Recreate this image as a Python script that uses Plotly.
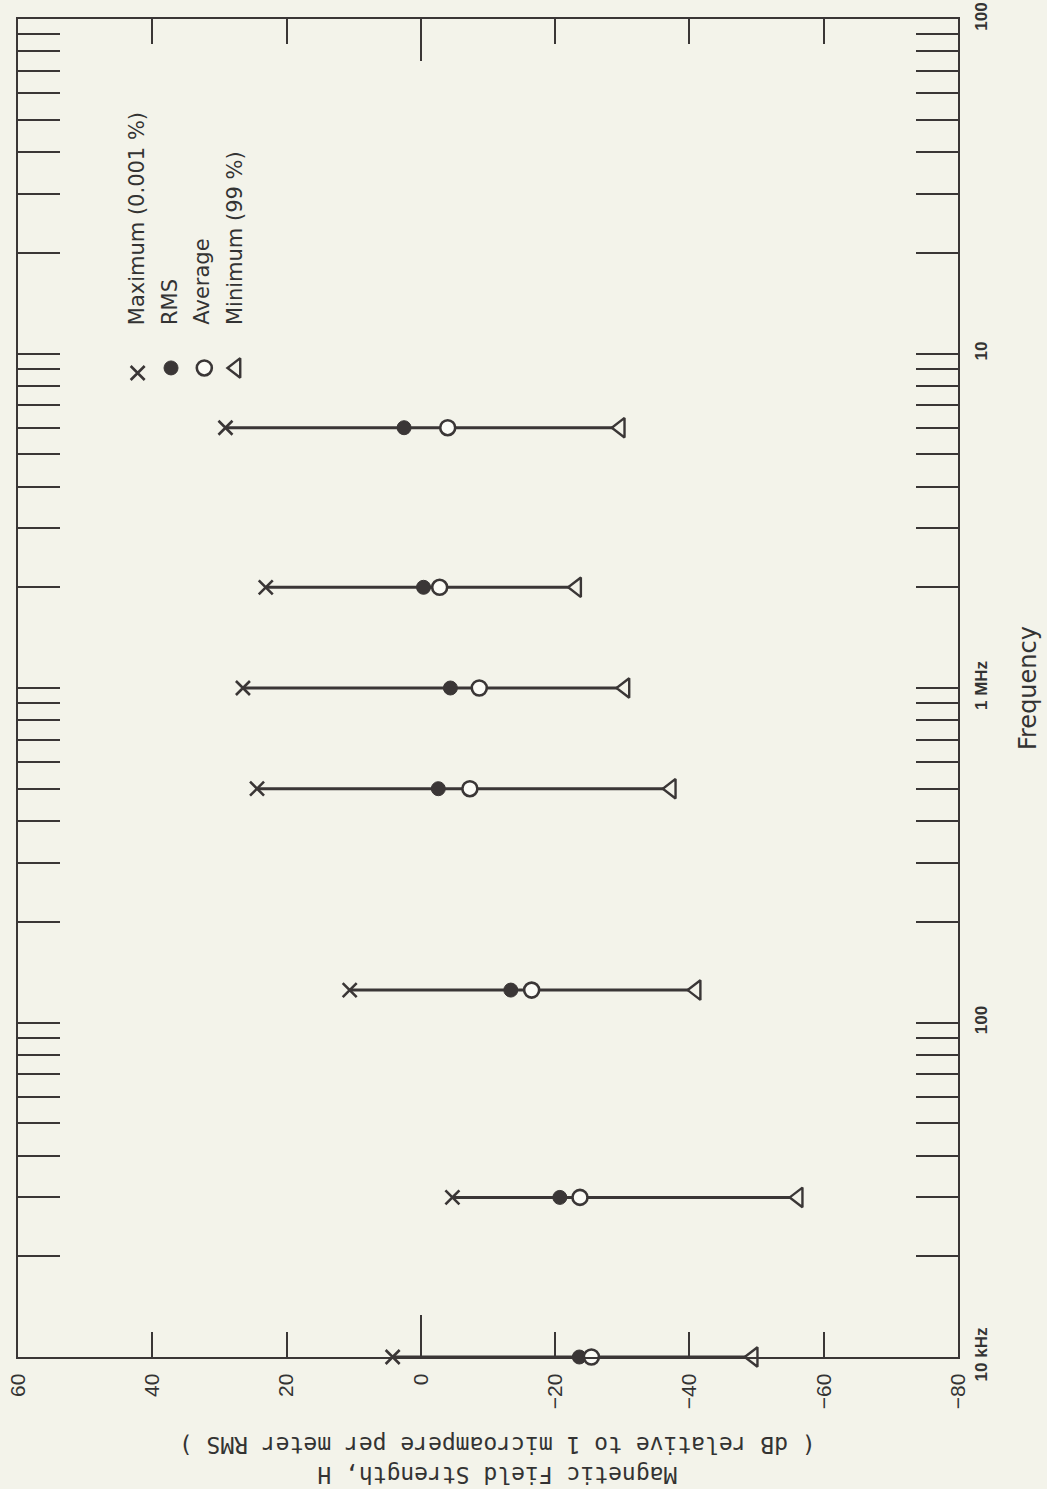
import plotly.graph_objects as go

# Measured magnetic field strength statistics (dB re 1 microampere/m RMS)
freq_hz = [1e4, 3e4, 1.25e5, 5e5, 1e6, 2e6, 6e6]
h_max = [4.2, -4.7, 10.6, 24.4, 26.5, 23.1, 29.1]
h_rms = [-23.6, -20.7, -13.4, -2.6, -4.4, -0.4, 2.5]
h_avg = [-25.4, -23.7, -16.5, -7.3, -8.7, -2.8, -4.0]
h_min = [-49.5, -56.2, -41.0, -37.3, -30.4, -23.2, -29.7]

db_ticks = [60, 40, 20, 0, -20, -40, -60, -80]
freq_decades = [1e4, 1e5, 1e6, 1e7, 1e8]
freq_decade_labels = ["10 kHz", "100", "1 MHz", "10", "100"]
legend_labels = ["Maximum (0.001 %)", "RMS", "Average", "Minimum (99 %)"]

INK = "#3a3636"
BG = "#f3f3ea"

minor_freq = [m * 10 ** e for e in range(4, 8) for m in range(2, 10)]

fig = go.Figure()

# vertical range bar from maximum to minimum at each frequency
bx, by = [], []
for f, hi, lo in zip(freq_hz, h_max, h_min):
    bx += [hi, lo, None]
    by += [f, f, None]
fig.add_trace(go.Scatter(x=bx, y=by, mode="lines", line=dict(color=INK, width=3),
                         cliponaxis=False, hoverinfo="skip", showlegend=False))

styles = [
    (h_max, dict(symbol="x-thin", size=14, line=dict(color=INK, width=2.6))),
    (h_rms, dict(symbol="circle", size=14, color=INK, line=dict(color=INK, width=1))),
    (h_avg, dict(symbol="circle", size=15, color="#fbfbf6", line=dict(color=INK, width=2.6))),
    (h_min, dict(symbol="triangle-left", size=17, color=BG, line=dict(color=INK, width=2.4))),
]
for vals, mk in styles:
    fig.add_trace(go.Scatter(x=vals, y=freq_hz, mode="markers", marker=mk,
                             cliponaxis=False, showlegend=False))

# key symbols, placed on a unit overlay
key_x = [0.1273, 0.1628, 0.1982, 0.2319]
key_y = [0.7354, 0.7392, 0.7392, 0.7392]
for (vals, mk), kx, ky in zip(styles, key_x, key_y):
    fig.add_trace(go.Scatter(x=[kx], y=[ky], xaxis="x2", yaxis="y2", mode="markers",
                             marker=mk, cliponaxis=False, showlegend=False, hoverinfo="skip"))

# carrier for the long zero-dB tick axis
fig.add_trace(go.Scatter(x=[0], y=[1e6], xaxis="x3", yaxis="y", mode="markers",
                         marker=dict(opacity=0), showlegend=False, hoverinfo="skip"))

text_col = [0.1263, 0.1617, 0.1954, 0.2309]
annotations = []
for lbl, cx in zip(legend_labels, text_col):
    annotations.append(dict(text=lbl, x=cx, y=0.7698, xref="paper", yref="paper",
                            textangle=-90, xanchor="center", yanchor="bottom",
                            showarrow=False, font=dict(family="DejaVu Sans", size=21, color="#333")))
annotations.append(dict(text="Frequency", x=1.0745, y=0.5, xref="paper", yref="paper",
                        textangle=-90, xanchor="center", yanchor="middle", showarrow=False,
                        font=dict(family="DejaVu Sans", size=24, color="#333")))
annotations.append(dict(text="Magnetic Field Strength, H<br>( dB relative to 1 microampere per meter RMS )",
                        x=0.51, y=-0.077, xref="paper", yref="paper", textangle=180,
                        xanchor="center", yanchor="middle", showarrow=False,
                        font=dict(family="DejaVu Sans Mono", size=23, color="#333")))

fig.update_layout(
    width=1047, height=1489,
    margin=dict(l=18, r=89, t=19, b=132, autoexpand=False),
    paper_bgcolor=BG, plot_bgcolor=BG,
    showlegend=False,
    xaxis=dict(range=[60, -80], tickvals=db_ticks, ticks="inside", ticklen=25,
               tickwidth=1.6, tickcolor=INK, showline=True, linecolor=INK, linewidth=2.4,
               mirror="allticks", showgrid=False, zeroline=False, tickangle=-90,
               ticklabelstandoff=6, automargin=False,
               tickfont=dict(family="Liberation Sans", size=21, color="#333")),
    yaxis=dict(type="log", range=[4, 8], side="right", tickvals=freq_decades,
               ticktext=freq_decade_labels, ticks="inside", ticklen=42, tickwidth=1.6,
               tickcolor=INK, showline=True, linecolor=INK, linewidth=2.4,
               mirror="allticks", showgrid=False, zeroline=False, tickangle=-90,
               ticklabelstandoff=6, automargin=False,
               minor=dict(tickvals=minor_freq, ticks="inside", ticklen=25,
                          tickwidth=1.6, tickcolor=INK, showgrid=False),
               tickfont=dict(family="Liberation Sans", size=17, weight="bold", color="#333")),
    xaxis2=dict(overlaying="x", range=[0, 1], visible=False),
    yaxis2=dict(overlaying="y", range=[0, 1], visible=False),
    xaxis3=dict(overlaying="x", anchor="y", range=[60, -80], tickvals=[0],
                ticks="inside", ticklen=42, tickwidth=1.6, tickcolor=INK,
                showticklabels=False, showline=True, linecolor=INK, linewidth=2.4,
                mirror="allticks", showgrid=False, zeroline=False, automargin=False),
    annotations=annotations,
)

fig.write_html("out.html")
